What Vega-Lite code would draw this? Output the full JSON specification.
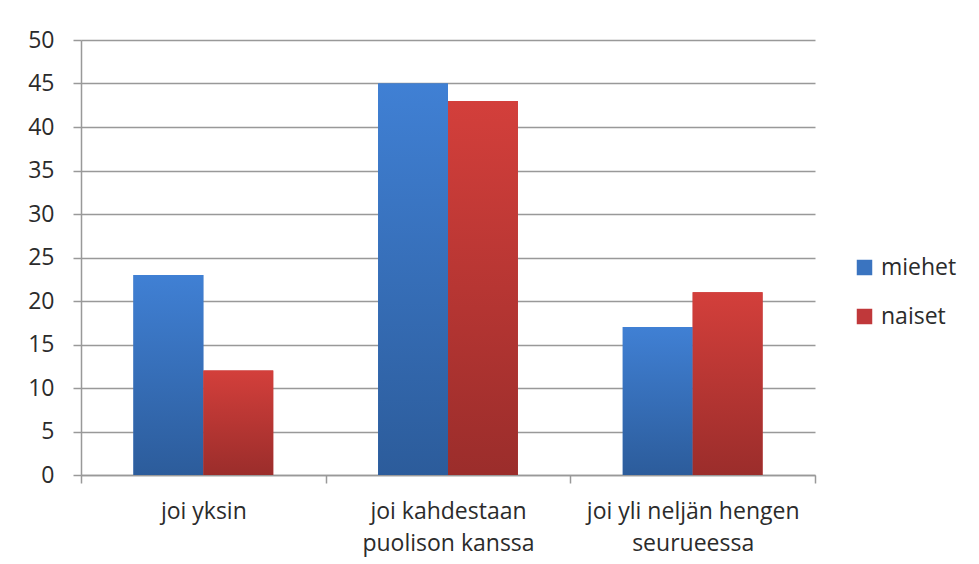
{
  "$schema": "https://vega.github.io/schema/vega-lite/v6.json",
  "autosize": "none",
  "width": 734,
  "height": 435,
  "padding": {"left": 81, "top": 40, "right": 164, "bottom": 89},
  "background": "white",
  "data": {
    "values": [
      {"ryhma": "joi yksin", "sukupuoli": "miehet", "arvo": 23},
      {"ryhma": "joi yksin", "sukupuoli": "naiset", "arvo": 12},
      {"ryhma": "joi kahdestaan puolison kanssa", "sukupuoli": "miehet", "arvo": 45},
      {"ryhma": "joi kahdestaan puolison kanssa", "sukupuoli": "naiset", "arvo": 43},
      {"ryhma": "joi yli neljän hengen seurueessa", "sukupuoli": "miehet", "arvo": 17},
      {"ryhma": "joi yli neljän hengen seurueessa", "sukupuoli": "naiset", "arvo": 21}
    ]
  },
  "config": {
    "font": "Open Sans",
    "view": {"stroke": null},
    "axis": {"labelFont": "Open Sans", "labelColor": "#2b2b2b", "domainColor": "#999999", "tickColor": "#999999", "gridColor": "#999999", "domainWidth": 1.5, "tickWidth": 1.5, "gridWidth": 1.5}
  },
  "encoding": {
    "x": {
      "field": "ryhma",
      "type": "nominal",
      "sort": null,
      "scale": {"paddingInner": 0, "paddingOuter": 0},
      "axis": {
        "title": null,
        "labelAngle": 0,
        "labelFontSize": 23,
        "tickBand": "extent",
        "tickSize": 8,
        "labelPadding": 17,
        "labelLineHeight": 32,
        "labelBaseline": "top",
        "labelLimit": 400,
        "labelExpr": "datum.label == 'joi kahdestaan puolison kanssa' ? ['joi kahdestaan', 'puolison kanssa'] : datum.label == 'joi yli neljän hengen seurueessa' ? ['joi yli neljän hengen', 'seurueessa'] : datum.label"
      }
    },
    "xOffset": {
      "field": "sukupuoli",
      "type": "nominal",
      "scale": {"paddingInner": 0, "paddingOuter": 0.75}
    },
    "y": {
      "field": "arvo",
      "type": "quantitative",
      "scale": {"domain": [0, 50], "nice": false},
      "axis": {"title": null, "values": [0,5,10,15,20,25,30,35,40,45,50], "labelOverlap": false, "labelFontSize": 23, "tickSize": 8, "labelPadding": 19, "grid": true}
    }
  },
  "layer": [
    {
      "mark": {"type": "bar"},
      "encoding": {
        "color": {
          "field": "sukupuoli",
          "type": "nominal",
          "scale": {"domain": ["miehet", "naiset"], "range": ["#3a74c0", "#c0383a"]},
          "legend": {
            "title": null,
            "orient": "none",
            "legendX": 772,
            "legendY": 216,
            "symbolType": "square",
            "symbolSize": 240,
            "symbolStrokeWidth": 0,
            "labelFontSize": 23,
            "labelColor": "#2b2b2b",
            "labelFont": "Open Sans",
            "labelOffset": 5,
            "rowPadding": 25
          }
        }
      }
    },
    {
      "transform": [{"filter": "datum.sukupuoli == 'miehet'"}],
      "mark": {
        "type": "bar",
        "fill": {"gradient": "linear", "x1": 0, "y1": 0, "x2": 0, "y2": 1, "stops": [{"offset": 0, "color": "#4080d4"}, {"offset": 1, "color": "#2c5c9b"}]}
      }
    },
    {
      "transform": [{"filter": "datum.sukupuoli == 'naiset'"}],
      "mark": {
        "type": "bar",
        "fill": {"gradient": "linear", "x1": 0, "y1": 0, "x2": 0, "y2": 1, "stops": [{"offset": 0, "color": "#d33f3b"}, {"offset": 1, "color": "#9b2d2b"}]}
      }
    }
  ]
}
